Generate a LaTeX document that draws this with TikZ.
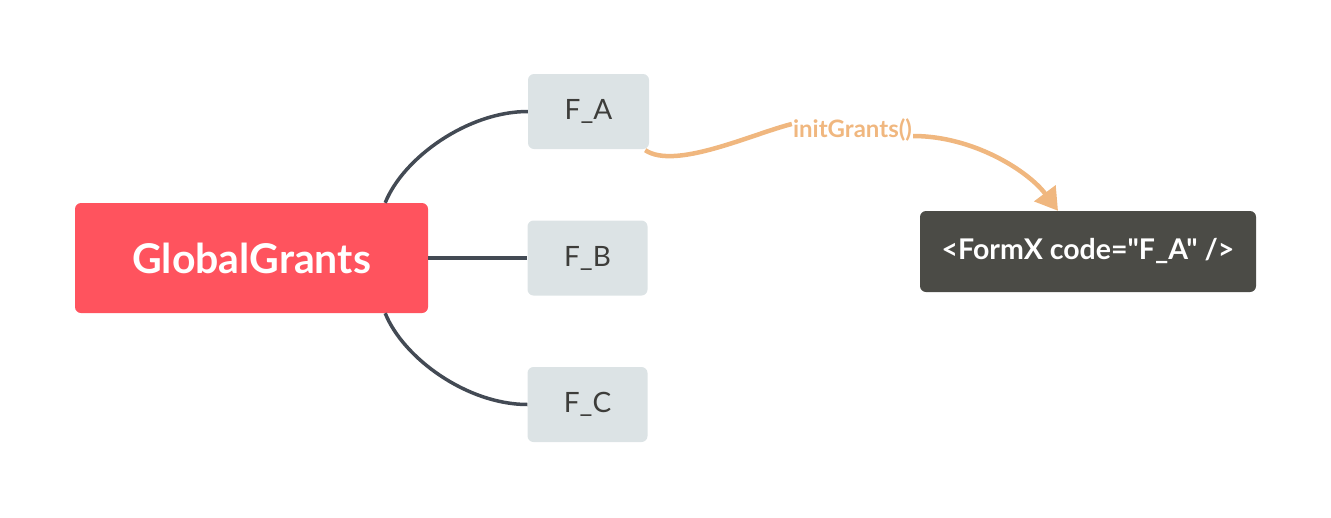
\documentclass[tikz,border=0pt]{standalone}
\usepackage{fontspec}
\setmainfont{Lato}
\newfontfamily\codefont{Lato}
\usetikzlibrary{arrows.meta}
\definecolor{rootred}{HTML}{FF535E}
\definecolor{leafgray}{HTML}{DCE3E5}
\definecolor{leaftext}{HTML}{3D3D3A}
\definecolor{linegray}{HTML}{434A54}
\definecolor{orangeline}{HTML}{F0B77F}
\definecolor{darkbox}{HTML}{4B4B46}
\begin{document}
\begin{tikzpicture}[x=1pt,y=-1pt,
  rootbox/.style={fill=rootred,rounded corners=6pt,minimum width=353pt,minimum height=110pt,inner sep=0pt,text=white,font=\fontsize{41}{44}\selectfont\bfseries},
  leafbox/.style={fill=leafgray,rounded corners=6pt,minimum width=120pt,minimum height=75pt,inner sep=0pt,text=leaftext,font=\fontsize{28}{30}\selectfont},
  codebox/.style={fill=darkbox,rounded corners=6pt,minimum width=336pt,minimum height=81pt,inner sep=0pt,text=white,font=\codefont\fontsize{28.5}{30}\selectfont\bfseries},
  branch/.style={draw=linegray,line width=3.5pt},
  callline/.style={draw=orangeline,line width=4.5pt},
  calllabel/.style={text=orangeline,inner sep=1pt,font=\fontsize{24}{26}\selectfont\bfseries}]
\useasboundingbox (0,0) rectangle (1331,517);
\node[rootbox] (root) at (251.5,258) {GlobalGrants};
\node[leafbox,minimum width=121pt] (fa) at (588.5,111.5) {F\_A};
\node[leafbox] (fb) at (587.5,258) {F\_B};
\node[leafbox] (fc) at (587.5,404.5) {F\_C};
\node[codebox] (fx) at (1088,251.5) {<FormX code="F\_A" />};
\node[calllabel] (lbl) at (852.5,130) {initGrants()};
\coordinate (rtop) at ([xshift=-43pt]root.north east);
\coordinate (rbot) at ([xshift=-43pt]root.south east);
\coordinate (fxin) at ([xshift=-30pt]fx.north);
\path[branch] (rtop) .. controls +(18,-45) and +(-60,0) .. (fa.west);
\path[branch] (root.east) -- (fb.west);
\path[branch] (rbot) .. controls +(18,45) and +(-60,0) .. (fc.west);
\path[callline] ([xshift=-4pt,yshift=-1pt]fa.south east) .. controls +(30,20) and +(-40,10) .. ([yshift=6pt]lbl.west);
\path[callline,-{Triangle[length=22pt,width=26pt]}] ([yshift=-6pt]lbl.east) .. controls +(60,0) and +(-30,-40) .. (fxin);
\end{tikzpicture}
\end{document}
